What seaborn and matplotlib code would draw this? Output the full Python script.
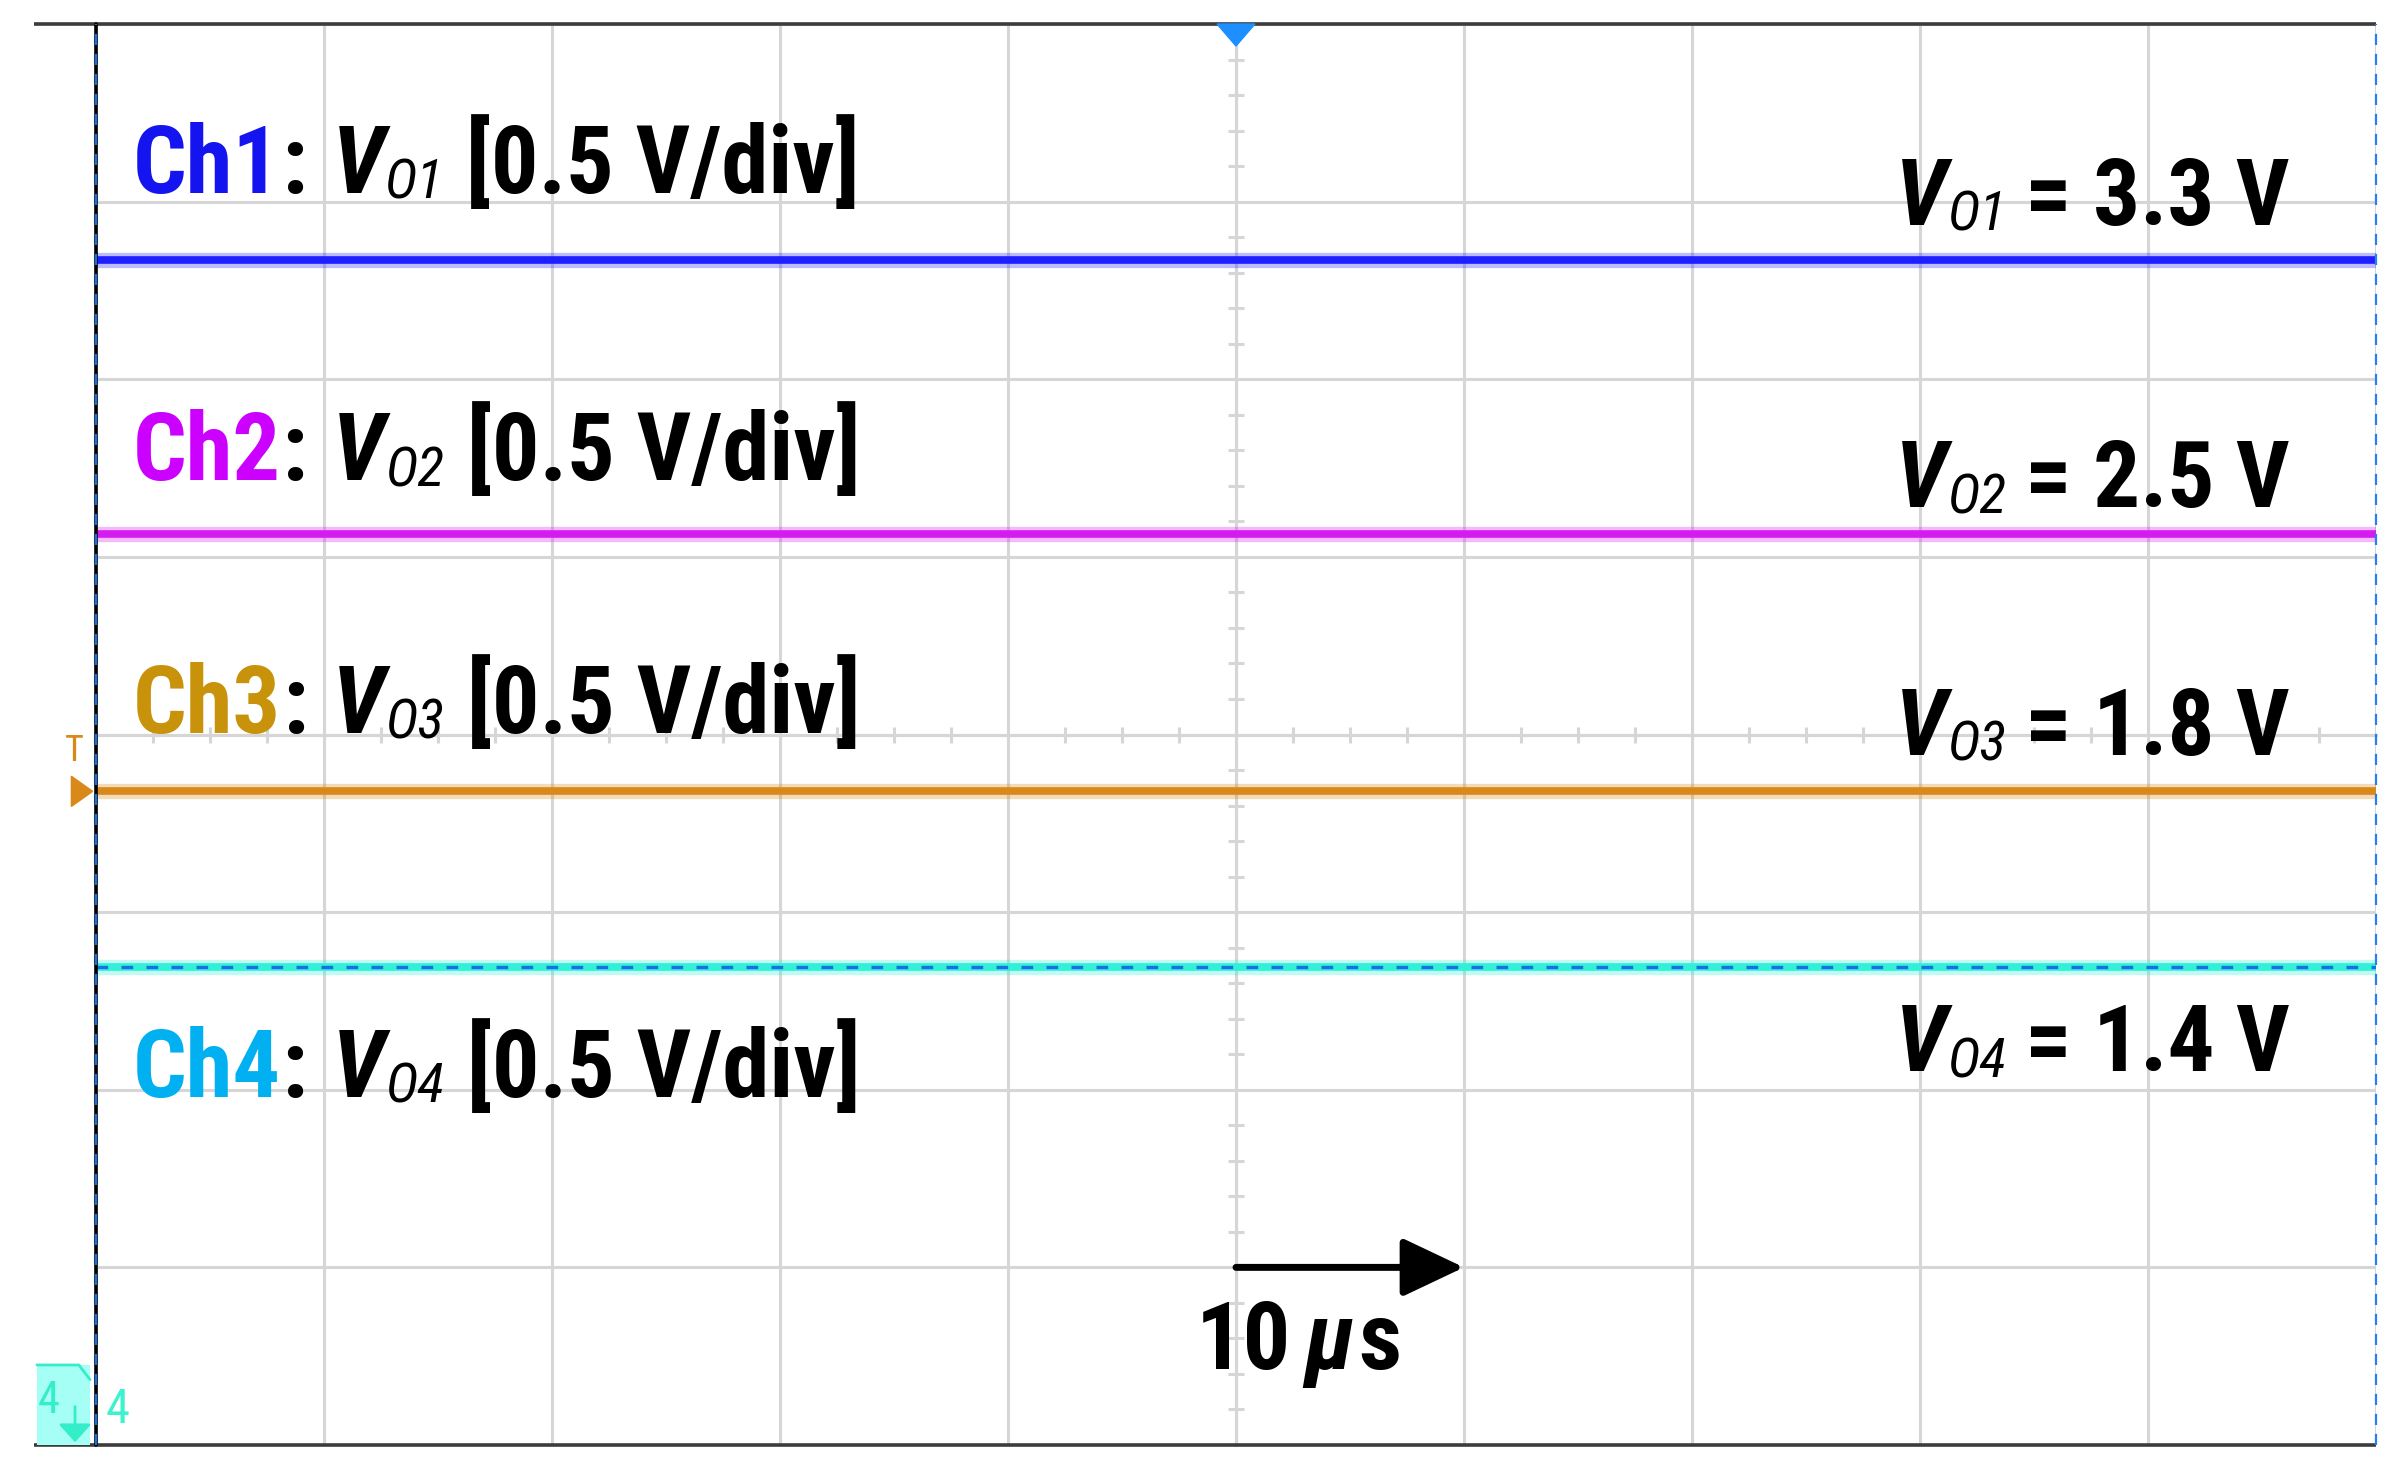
import numpy as np
import pandas as pd
import matplotlib
matplotlib.use("Agg")
import matplotlib.pyplot as plt
import seaborn as sns
from matplotlib import font_manager
from matplotlib.patches import Polygon, Rectangle
from matplotlib.transforms import blended_transform_factory

# ---------------- data (read from the scope capture) ----------------
channels = ["Ch1", "Ch2", "Ch3", "Ch4"]
vout_subscripts = ["O1", "O2", "O3", "O4"]
dc_volts = [3.3, 2.5, 1.8, 1.4]
volts_per_div = [0.5, 0.5, 0.5, 0.5]
trace_levels_div = [2.67, 1.13, -0.32, -1.31]     # screen position of each trace (divisions from centre)
time_window_us = [-50, 50]                         # 10 divisions x 10 us/div
time_per_div_us = 10
trigger_time_us = 0

trace_colors = ["#1e1eff", "#d41cf0", "#d9891a", "#30f0d8"]
label_colors = ["#1414f0", "#cc00ff", "#c8920a", "#00b0f0"]

# ---------------- style ----------------
sns.set_theme(style="white")
names = {f.name for f in font_manager.fontManager.ttflist}
candidates = ["Liberation Sans Narrow", "Arial Narrow", "Roboto Condensed",
              "Noto Sans Condensed", "Open Sans Condensed", "DejaVu Sans Condensed"]
main_family = None
for c in candidates:
    if c in names:
        main_family = c
        break
if main_family is None:
    main_family = "Liberation Sans"
    SCALE = 0.84
else:
    SCALE = 1.0
plt.rcParams["font.family"] = [main_family, "DejaVu Sans"]

W, H, DPI = 2396, 1475, 100
PX = 72.0 / DPI
fig = plt.figure(figsize=(W / DPI, H / DPI), dpi=DPI)
ax = fig.add_axes([96 / W, 30 / H, 2280 / W, 1421 / H])

GRID = "#d6d6d6"

# ---------------- traces ----------------
rows = []
for ch, lvl in zip(channels, trace_levels_div):
    for t in time_window_us:
        rows.append({"channel": ch, "time_us": t, "level_div": lvl})
df = pd.DataFrame(rows)
pal = dict(zip(channels, trace_colors))

sns.lineplot(data=df, x="time_us", y="level_div", hue="channel", palette=pal,
             estimator=None, linewidth=11, alpha=0.3, legend=False, ax=ax, zorder=4)
sns.lineplot(data=df, x="time_us", y="level_div", hue="channel", palette=pal,
             estimator=None, linewidth=5.5, legend=False, ax=ax, zorder=5)
# blue reference dashes over Ch4
ax.plot(time_window_us, [trace_levels_div[3]] * 2, color="#1a6fe6", lw=2.4,
        linestyle=(0, (3.5, 4.0)), zorder=6)

# ---------------- graticule ----------------
ax.set_xlim(time_window_us)
ax.set_ylim(-4, 4)
ax.set_xticks(np.arange(time_window_us[0], time_window_us[1] + 1, time_per_div_us))
ax.set_yticks(np.arange(-4, 5, 1))
ax.set_xticks(np.arange(time_window_us[0], time_window_us[1] + 0.1, time_per_div_us / 4), minor=True)
ax.set_yticks(np.arange(-4, 4.01, 0.2), minor=True)
ax.grid(True, which="major", color=GRID, linewidth=2.2)
ax.set_axisbelow(True)
ax.spines["left"].set_position(("data", 0))
ax.spines["bottom"].set_position(("data", 0))
for s in ["top", "right"]:
    ax.spines[s].set_visible(False)
for s in ["left", "bottom"]:
    ax.spines[s].set_color(GRID)
    ax.spines[s].set_linewidth(2.2)
ax.tick_params(which="both", labelleft=False, labelbottom=False, left=True, bottom=True)
ax.tick_params(which="major", length=0)
ax.tick_params(which="minor", direction="inout", length=12, width=2.2, color=GRID)
ax.set_xlabel("")
ax.set_ylabel("")

# ---------------- frame ----------------
xl = (34 - 96) / 2280
for yy in (0, 1):
    ax.plot([xl, 1], [yy, yy], transform=ax.transAxes, color="#3c3c3c", lw=2.6,
            clip_on=False, solid_capstyle="butt", zorder=8)
ax.plot([0, 0], [0, 1], transform=ax.transAxes, color="black", lw=2.6, clip_on=False, zorder=8)
ax.plot([0, 0], [0, 1], transform=ax.transAxes, color="#1a6fe6", lw=1.6,
        linestyle=(0, (5, 4)), clip_on=False, zorder=9)
ax.plot([1, 1], [0, 1], transform=ax.transAxes, color="#2a7ff0", lw=1.6,
        linestyle=(0, (5, 4)), clip_on=False, zorder=9)

# trigger position marker (top)
ax.add_patch(Polygon([(trigger_time_us - 0.83, 4), (trigger_time_us + 0.83, 4),
                      (trigger_time_us, 4 - 0.124)], closed=True, color="#1e8fff",
                     clip_on=False, zorder=10))

# trigger level marker (left)
bt = blended_transform_factory(ax.transAxes, ax.transData)
tl = trace_levels_div[2]
ax.add_patch(Polygon([(-0.0108, tl + 0.085), (-0.0108, tl - 0.085), (-0.0015, tl)],
                     closed=True, color="#d9891a", transform=bt, clip_on=False, zorder=10))
ax.text(-0.0094, tl + 0.225, "T", transform=bt, ha="center", va="center",
        fontsize=26, color="#d9891a", fontweight="normal", clip_on=False)

# Ch4 ground marker (bottom-left)
ta = ax.transAxes
ax.add_patch(Rectangle((-0.0259, 0), 0.0233, 0.0563, transform=ta, facecolor="#a6fff4",
                       edgecolor="none", clip_on=False, zorder=10))
ax.plot([-0.0259, -0.0075, -0.0026], [0.0563, 0.0563, 0.046], transform=ta,
        color="#33eec8", lw=2, clip_on=False, zorder=11)
ax.text(-0.0254, 0.0225, "4", transform=ta, ha="left", va="baseline", fontsize=32,
        color="#33eec8", clip_on=False, zorder=11)
ax.annotate("", xy=(-0.0092, 0.002), xytext=(-0.0092, 0.027), xycoords=ta, textcoords=ta,
            arrowprops=dict(arrowstyle="-|>,head_length=0.55,head_width=0.5", mutation_scale=20,
                            lw=2, color="#33eec8", shrinkA=0, shrinkB=0), zorder=11,
            annotation_clip=False)
ax.text(0.004, 0.0155, "4", transform=ta, ha="left", va="baseline", fontsize=35,
        color="#3cf2cf", clip_on=False, zorder=11)


# ---------------- rich text helper ----------------
def rich(x, y, pieces):
    prev = ax.text(x, y, pieces[0][0], ha="left", va="baseline", clip_on=False, zorder=12,
                   **pieces[0][1])
    for s, kw, dx, dy in pieces[1:]:
        prev = ax.annotate(s, xy=(1, y), xycoords=(prev, "data"), xytext=(dx * PX, dy * PX),
                           textcoords="offset points", ha="left", va="baseline",
                           annotation_clip=False, zorder=12, **kw)
    return prev


MAIN = 68 * SCALE
SUB = 40 * SCALE
bold = dict(fontsize=MAIN, fontweight="bold", color="black")
boldit = dict(fontsize=MAIN, fontweight="bold", fontstyle="italic", color="black")
subit = dict(fontsize=SUB, fontweight="normal", fontstyle="italic", color="black")

ch_label_x = -48.4
ch_label_y = [3.05, 1.43, 0.01, -2.04]
val_label_x = 28.9
val_label_y = [2.87, 1.28, -0.115, -1.895]

for i, ch in enumerate(channels):
    rich(ch_label_x, ch_label_y[i], [
        (ch, dict(fontsize=MAIN, fontweight="bold", color=label_colors[i]), 0, 0),
        (":", bold, 1, 0),
        ("V", boldit, 24, 0),
        (vout_subscripts[i], subit, 1, -6),
        (f"[{volts_per_div[i]} V/div]", bold, 22, 0),
    ])
    rich(val_label_x, val_label_y[i], [
        ("V", dict(fontsize=MAIN - 1, fontweight="bold", fontstyle="italic", color="black"), 0, 0),
        (vout_subscripts[i], subit, 1, -6),
        (f"= {dc_volts[i]} V", dict(fontsize=MAIN - 1, fontweight="bold", color="black"), 18, 0),
    ])

# time-base arrow and label
ax.annotate("", xy=(time_per_div_us, -3), xytext=(0, -3), xycoords="data",
            arrowprops=dict(arrowstyle="-|>,head_length=0.95,head_width=0.45", mutation_scale=40,
                            lw=5, color="black", shrinkA=0, shrinkB=0, capstyle="round"),
            zorder=12)
rich(-1.75, -3.57, [
    ("10", bold, 0, 0),
    ("\u03bc", boldit, 13, 0),
    ("s", bold, 3, 0),
])

fig.savefig("out.png", dpi=DPI)
